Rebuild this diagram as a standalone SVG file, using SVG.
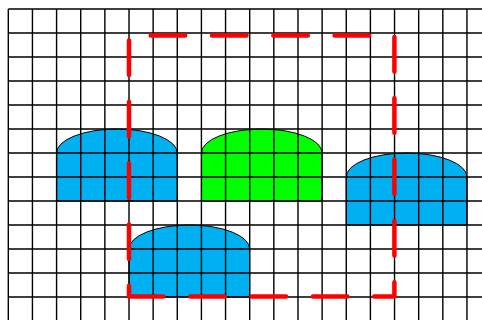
<svg xmlns="http://www.w3.org/2000/svg" width="482" height="320" viewBox="0 0 482 320">
<style>
.blue{fill:#00b0f0;stroke:#000;stroke-width:1}
.green{fill:#00ff00;stroke:#000;stroke-width:1}
.grid{fill:none;stroke:#000;stroke-width:1.4}
.frame{fill:none;stroke:#ff0000;stroke-width:4.5;stroke-linecap:round;stroke-linejoin:round;stroke-dasharray:34.5 26.8}
</style>
<rect width="482" height="320" fill="#fff"/>
<g id="node-blue-left"><path class="blue" d="M56.58,201 V153 A60.35,24 0 0 1 177.28,153 V201 Z"/></g>
<g id="node-green"><path class="green" d="M201.42,201 V153 A60.35,24 0 0 1 322.12,153 V201 Z"/></g>
<g id="node-blue-right"><path class="blue" d="M346.26,225 V177 A60.35,24 0 0 1 466.96,177 V225 Z"/></g>
<g id="node-blue-bottom"><path class="blue" d="M129,297 V249 A60.35,24 0 0 1 249.7,249 V297 Z"/></g>
<g id="grid">
<path class="grid" d="M8.3,9H482 M8.3,33H482 M8.3,57H482 M8.3,81H482 M8.3,105H482 M8.3,129H482 M8.3,153H482 M8.3,177H482 M8.3,201H482 M8.3,225H482 M8.3,249H482 M8.3,273H482 M8.3,297H482
M8.3,9V320 M32.44,9V320 M56.58,9V320 M80.72,9V320 M104.86,9V320 M129,9V320 M153.14,9V320 M177.28,9V320 M201.42,9V320 M225.56,9V320 M249.7,9V320 M273.84,9V320 M297.98,9V320 M322.12,9V320 M346.26,9V320 M370.4,9V320 M394.54,9V320 M418.68,9V320 M442.82,9V320 M466.96,9V320"/>
</g>
<g id="connectors">
<path class="frame" d="M129,296.5 H394.4 V35.5 H129 Z"/>
</g>
</svg>
